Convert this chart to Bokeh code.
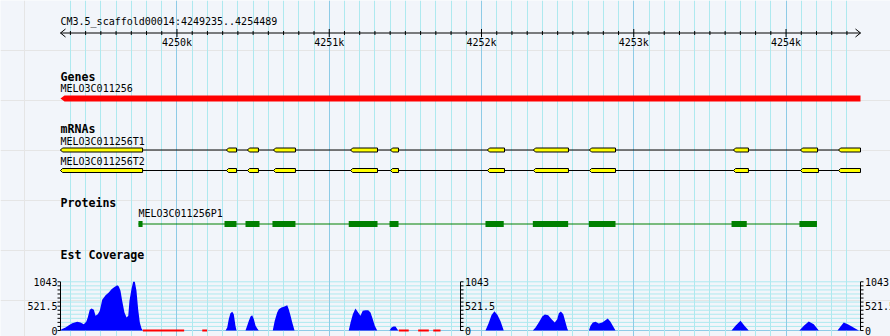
from bokeh.plotting import figure
from bokeh.models import Range1d, FixedTicker, Grid
from bokeh.core.properties import value
from bokeh.embed import file_html
from bokeh.resources import INLINE

# ---------------- data ----------------
ref_name = "CM3.5_scaffold00014"
region_start = 4249235
region_end = 4254489

ruler_major = [4250000, 4251000, 4252000, 4253000, 4254000]
ruler_labels = ["4250k", "4251k", "4252k", "4253k", "4254k"]
ruler_minor = [t for t in range(4249300, 4254489, 100) if t % 1000 != 0]

track_titles = ["Genes", "mRNAs", "Proteins", "Est Coverage"]

gene_name = "MELO3C011256"
gene_start = 4249235
gene_end = 4254489

mrna_names = ["MELO3C011256T1", "MELO3C011256T2"]
t1_exon_starts = [4249235, 4250325, 4250463, 4250634, 4251140, 4251402,
                  4252039, 4252341, 4252709, 4253655, 4254095, 4254345]
t1_exon_ends = [4249774, 4250391, 4250535, 4250778, 4251317, 4251455,
                4252151, 4252571, 4252880, 4253753, 4254207, 4254489]
t2_exon_starts = [4249235, 4250325, 4250463, 4250634, 4251140, 4251402,
                  4252039, 4252341, 4252709, 4253655, 4254095, 4254345]
t2_exon_ends = [4249774, 4250391, 4250535, 4250778, 4251317, 4251455,
                4252151, 4252571, 4252880, 4253753, 4254213, 4254489]

protein_name = "MELO3C011256P1"
cds_starts = [4249747, 4250312, 4250450, 4250627, 4251128, 4251396,
              4252026, 4252337, 4252705, 4253642, 4254088]
cds_ends = [4249774, 4250391, 4250542, 4250778, 4251317, 4251455,
            4252146, 4252569, 4252880, 4253742, 4254203]

cov_max = 1043
cov_tick_values = [0, 521.5, 1043]
cov_tick_labels = ["0", "521.5", "1043"]
cov_grid_values = [0, 86.9, 173.8, 260.8, 347.7, 434.6, 521.5, 608.4,
                   695.3, 782.3, 869.2, 956.1, 1043]

cov_pos = [
    4249235, 4249242, 4249268, 4249290, 4249312, 4249345, 4249366, 4249388,
    4249404, 4249414, 4249427, 4249439, 4249454, 4249465, 4249480, 4249493,
    4249509, 4249531, 4249552, 4249570, 4249585, 4249607, 4249618, 4249629,
    4249640, 4249655, 4249669, 4249680, 4249688, 4249701, 4249712, 4249723,
    4249734, 4249745, 4249756, 4249767, 4249776,
    4250319, 4250330, 4250340, 4250351, 4250363, 4250373, 4250384, 4250391,
    4250450, 4250461, 4250472, 4250483, 4250494, 4250505, 4250516, 4250527, 4250537,
    4250629, 4250642, 4250658, 4250669, 4250686, 4250702, 4250717, 4250724,
    4250734, 4250746, 4250757, 4250772,
    4251128, 4251140, 4251155, 4251172, 4251190, 4251205, 4251220, 4251238,
    4251256, 4251271, 4251286, 4251299, 4251315,
    4251396, 4251409, 4251422, 4251435, 4251453,
    4252026, 4252046, 4252066, 4252085, 4252105, 4252125, 4252146,
    4252337, 4252355, 4252376, 4252399, 4252416, 4252438, 4252460, 4252481,
    4252497, 4252508, 4252521, 4252537, 4252552, 4252563, 4252569,
    4252705, 4252716, 4252731, 4252749, 4252770, 4252793, 4252814, 4252829,
    4252847, 4252862, 4252880,
    4253642, 4253668, 4253701, 4253727, 4253755,
    4254088, 4254117, 4254149, 4254182, 4254215,
    4254338, 4254358, 4254379, 4254405, 4254432, 4254454, 4254478,
]
cov_val = [
    0, 29, 64, 114, 157, 186, 171, 136,
    186, 278, 443, 471, 443, 314, 350, 421,
    657, 757, 814, 885, 921, 971, 942, 850,
    635, 386, 278, 314, 635, 885, 1043, 1043,
    850, 457, 171, 43, 0,
    0, 64, 243, 371, 400, 350, 100, 0,
    0, 100, 207, 300, 328, 243, 100, 43, 0,
    0, 207, 386, 457, 493, 507, 528, 543,
    457, 314, 171, 0,
    0, 171, 350, 471, 386, 314, 421, 436,
    436, 386, 243, 100, 0,
    0, 64, 86, 86, 0,
    0, 150, 330, 413, 330, 200, 0,
    0, 64, 171, 300, 343, 328, 243, 171,
    243, 371, 407, 350, 171, 43, 0,
    0, 100, 171, 186, 150, 171, 221, 257,
    186, 100, 0,
    0, 100, 207, 100, 0,
    0, 100, 193, 136, 0,
    0, 86, 171, 136, 86, 43, 0,
]
low_starts = [4249776, 4250166, 4251457, 4251584, 4251683]
low_ends = [4250047, 4250198, 4251522, 4251654, 4251731]

# ---------------- layout / style ----------------
W, H = 890, 336
left_px, right_px = 60, 860
bpp = (region_end - region_start) / (right_px - left_px)
x0 = region_start - left_px * bpp
x1 = region_start + (W - left_px) * bpp

cov_bot_px, cov_top_px = 330.0, 281.3
upp = cov_max / (cov_bot_px - cov_top_px)
cov_start = -(H - cov_bot_px) * upp
cov_end = cov_start + H * upp

BG = "#f2f5fa"
MINOR = "#aee9ef"
MAJOR = "#8ecbe6"
MONO = "DejaVu Sans Mono"

p = figure(width=W, height=H, output_backend="svg", toolbar_location=None,
           x_range=Range1d(x0, x1), y_range=Range1d(H, 0),
           x_axis_location=None, y_axis_location=None,
           min_border=0, background_fill_color=BG, border_fill_color=BG,
           outline_line_color=None)
p.extra_y_ranges = {"cov": Range1d(cov_start, cov_end)}

p.add_layout(Grid(dimension=0, ticker=FixedTicker(ticks=ruler_minor),
                  grid_line_color=MINOR, grid_line_width=1))
p.add_layout(Grid(dimension=0, ticker=FixedTicker(ticks=ruler_major),
                  grid_line_color=MAJOR, grid_line_width=1))

def txt(xs, ys, texts, size="10px", style="normal", align="left", yr="default"):
    p.text(x=xs, y=ys, text=texts, text_font=value(MONO), text_font_size=size,
           text_font_style=style, text_align=align, text_baseline="middle",
           text_color="black", y_range_name=yr)

# ruler
ruler_y = 32.5
p.segment(x0=[region_start], y0=[ruler_y], x1=[region_end], y1=[ruler_y],
          line_color="black", line_width=1)
a = 5 * bpp
p.segment(x0=[region_start, region_start, region_end, region_end],
          y0=[ruler_y] * 4,
          x1=[region_start + a, region_start + a, region_end - a, region_end - a],
          y1=[ruler_y - 4, ruler_y + 4, ruler_y - 4, ruler_y + 4],
          line_color="black", line_width=1)
p.segment(x0=ruler_major, y0=[ruler_y - 4] * len(ruler_major),
          x1=ruler_major, y1=[ruler_y + 4] * len(ruler_major),
          line_color="black", line_width=1)
p.segment(x0=ruler_minor, y0=[ruler_y - 2] * len(ruler_minor),
          x1=ruler_minor, y1=[ruler_y + 2] * len(ruler_minor),
          line_color="black", line_width=1)
txt(ruler_major, [42] * len(ruler_major), ruler_labels, align="center")
txt([region_start], [21], [f"{ref_name}:{region_start}..{region_end}"])

# track titles
txt([region_start] * 4, [76.5, 128.7, 202, 254], track_titles,
    size="11.6px", style="bold")

# gene
txt([gene_start], [88], [gene_name])
tip = 4 * bpp
p.patch(x=[gene_start, gene_start + tip, gene_end, gene_end, gene_start + tip],
        y=[98, 95, 95, 101, 101], fill_color="red", line_color=None)

# mRNAs
notch = 2 * bpp
for name, starts, ends, ly, yc in [
        (mrna_names[0], t1_exon_starts, t1_exon_ends, 140.5, 149.5),
        (mrna_names[1], t2_exon_starts, t2_exon_ends, 161, 170)]:
    txt([starts[0]], [ly], [name])
    p.segment(x0=[starts[0]], y0=[yc], x1=[ends[-1]], y1=[yc],
              line_color="black", line_width=1)
    xs = [[s, s + notch, e, e, s + notch] for s, e in zip(starts, ends)]
    ys = [[yc, yc - 2, yc - 2, yc + 2, yc + 2] for _ in starts]
    p.patches(xs=xs, ys=ys, fill_color="yellow", line_color="black", line_width=1)

# protein
txt([cds_starts[0]], [213], [protein_name])
py = 223.5
p.segment(x0=[cds_starts[0]], y0=[py], x1=[cds_ends[-1]], y1=[py],
          line_color="green", line_width=1)
p.quad(left=cds_starts, right=cds_ends, top=[py - 3] * len(cds_starts),
       bottom=[py + 3] * len(cds_starts), fill_color="green", line_color=None)

# coverage grid
ng = len(cov_grid_values)
p.segment(x0=[region_start] * ng, y0=cov_grid_values, x1=[region_end] * ng,
          y1=cov_grid_values, line_color=MINOR, line_width=1, y_range_name="cov",
          level="underlay")
p.segment(x0=[region_start], y0=[0], x1=[region_end], y1=[0],
          line_color=MAJOR, line_width=1, y_range_name="cov", level="underlay")

# coverage area
p.varea(x=cov_pos, y1=[0] * len(cov_pos), y2=cov_val, fill_color="blue",
        y_range_name="cov")
p.segment(x0=low_starts, y0=[0] * len(low_starts), x1=low_ends,
          y1=[0] * len(low_starts), line_color="red", line_width=2,
          y_range_name="cov")

# coverage scales (left, middle, right)
mid = (region_start + region_end) / 2
tk = 3 * bpp
for ax, side in [(region_start, -1), (mid, 1), (region_end, 1)]:
    p.segment(x0=[ax], y0=[0], x1=[ax], y1=[cov_max], line_color="black",
              line_width=1, y_range_name="cov")
    p.segment(x0=[ax] * ng, y0=cov_grid_values, x1=[ax + side * tk] * ng,
              y1=cov_grid_values, line_color="black", line_width=1,
              y_range_name="cov")
    if side < 0:
        txt([ax - tk] * 3, cov_tick_values, cov_tick_labels, align="right", yr="cov")
    else:
        txt([ax + 4.5 * bpp] * 3, cov_tick_values, cov_tick_labels, align="left", yr="cov")

open("out.html", "w").write(file_html(p, INLINE))
